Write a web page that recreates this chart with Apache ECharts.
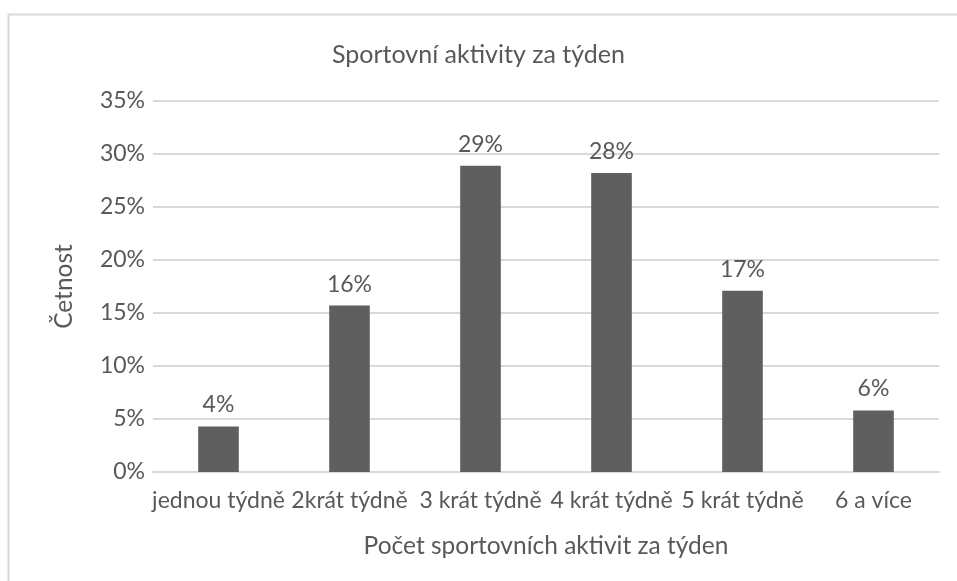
<!DOCTYPE html>
<html><head><meta charset="utf-8">
<script src="https://cdn.jsdelivr.net/npm/echarts@6/dist/echarts.min.js"></script>
<style>html,body{margin:0;padding:0;background:#fff}#c{width:957px;height:581px}</style>
</head><body><div id="c"></div>
<script>
const categories = ['jednou týdně','2krát týdně','3 krát týdně','4 krát týdně','5 krát týdně','6 a více'];
const values = [4.3, 15.7, 28.9, 28.2, 17.1, 5.8];
const labels = ['4%','16%','29%','28%','17%','6%'];
const title = 'Sportovní aktivity za týden';
const xName = 'Počet sportovních aktivit za týden';
const yName = 'Četnost';

const FONT = 'Lato';
const TXT = '#595959';
const chart = echarts.init(document.getElementById('c'), null, {renderer:'canvas'});
chart.setOption({
  animation:false,
  textStyle:{fontFamily:FONT},
  title:{text:title, left:'center', top:37, textStyle:{fontFamily:FONT, fontSize:25, fontWeight:'normal', color:TXT}},
  graphic:[{type:'polyline', shape:{points:[[8.5,581],[8.5,14.5],[957,14.5]]}, style:{stroke:'#d9d9d9', lineWidth:2, fill:null}}],
  grid:{left:153, right:18, top:101, bottom:109, containLabel:false},
  xAxis:{type:'category', data:categories,
    name:xName, nameLocation:'middle', nameGap:62,
    nameTextStyle:{fontFamily:FONT, fontSize:24.5, color:TXT},
    axisLine:{lineStyle:{color:'#d9d9d9', width:2}}, axisTick:{show:false},
    axisLabel:{fontFamily:FONT, fontSize:23, color:TXT, margin:17, interval:0}},
  yAxis:{type:'value', min:0, max:35, interval:5,
    name:yName, nameLocation:'middle', nameGap:76, nameRotate:90,
    nameTextStyle:{fontFamily:FONT, fontSize:24.5, color:TXT},
    axisLine:{show:false}, axisTick:{show:false},
    axisLabel:{fontFamily:FONT, fontSize:23, color:TXT, margin:8, formatter:v=>v+'%'},
    splitLine:{lineStyle:{color:'#d9d9d9', width:2}}},
  series:[{type:'bar', data:values, barWidth:'31%',
    itemStyle:{color:'#5f5f5f'},
    label:{show:true, position:'top', distance:10, fontFamily:FONT, fontSize:23, color:TXT,
      formatter:p=>labels[p.dataIndex]}}]
});
</script></body></html>
